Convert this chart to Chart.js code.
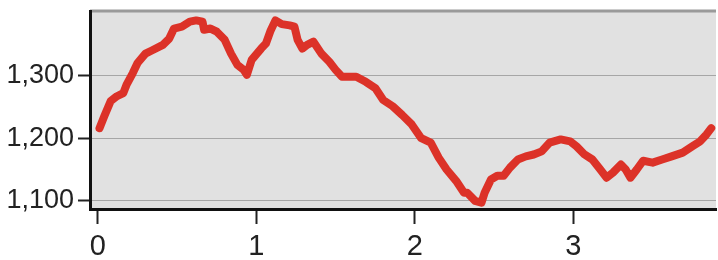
<!DOCTYPE html>
<html>
<head>
<meta charset="utf-8">
<script src="https://cdn.jsdelivr.net/npm/chart.js@4/dist/chart.umd.min.js"></script>
<style>
  html, body { margin: 0; padding: 0; background: #fff; }
  #wrap { width: 718px; height: 260px; }
</style>
</head>
<body>
<div id="wrap"><canvas id="lineChart"></canvas></div>
<script>
// values
const xValues = [0.01, 0.04, 0.08, 0.12, 0.16, 0.18, 0.22, 0.25, 0.30, 0.34, 0.41, 0.45, 0.48, 0.53, 0.58, 0.62,
  0.66, 0.67, 0.71, 0.75, 0.80, 0.84, 0.88, 0.92, 0.94, 0.97, 1.03, 1.06, 1.09, 1.12, 1.16, 1.21, 1.24, 1.26,
  1.29, 1.32, 1.36, 1.41, 1.46, 1.50, 1.54, 1.63, 1.69, 1.75, 1.80, 1.86, 1.92, 1.98, 2.04, 2.10, 2.15, 2.20,
  2.26, 2.31, 2.33, 2.38, 2.42, 2.44, 2.48, 2.52, 2.56, 2.60, 2.65, 2.70, 2.75, 2.80, 2.85, 2.92, 2.98, 3.02,
  3.07, 3.12, 3.17, 3.21, 3.25, 3.30, 3.33, 3.36, 3.40, 3.44, 3.50, 3.56, 3.62, 3.69, 3.75, 3.80, 3.84, 3.87];
const yValues = [1216, 1235, 1259, 1267, 1272, 1285, 1304, 1320, 1335, 1340, 1349, 1359, 1375, 1378, 1386, 1388,
  1386, 1373, 1375, 1370, 1357, 1335, 1317, 1309, 1301, 1325, 1343, 1351, 1372, 1388, 1382, 1380, 1378, 1357,
  1343, 1349, 1354, 1335, 1322, 1309, 1298, 1298, 1290, 1280, 1261, 1251, 1237, 1222, 1200, 1193, 1169, 1150,
  1132, 1113, 1113, 1100, 1097, 1113, 1134, 1140, 1140, 1153, 1166, 1171, 1174, 1179, 1193, 1198, 1195, 1187,
  1174, 1166, 1150, 1137, 1145, 1158, 1150, 1137, 1150, 1164, 1161, 1166, 1171, 1177, 1187, 1195, 1206, 1216];
const xTicks = [0, 1, 2, 3];
const yTicks = [1100, 1200, 1300];

const points = xValues.map((x, i) => ({ x: x, y: yValues[i] }));

const plotBg = {
  id: 'plotBg',
  beforeDraw(chart) {
    const { ctx, chartArea: a } = chart;
    ctx.save();
    ctx.fillStyle = '#e1e1e1';
    ctx.fillRect(a.left, a.top, a.right - a.left, a.bottom - a.top);
    ctx.strokeStyle = '#9a9a9a';
    ctx.lineWidth = 3;
    ctx.beginPath();
    ctx.moveTo(a.left, a.top);
    ctx.lineTo(a.right, a.top);
    ctx.stroke();
    ctx.restore();
  }
};

new Chart(document.getElementById('lineChart'), {
  type: 'line',
  data: {
    datasets: [{
      data: points,
      borderColor: '#dc3228',
      borderWidth: 8,
      pointRadius: 0,
      tension: 0,
      borderCapStyle: 'round',
      borderJoinStyle: 'round'
    }]
  },
  options: {
    responsive: true,
    maintainAspectRatio: false,
    animation: false,
    layout: { padding: { top: 11, right: 2, left: 0, bottom: 0 } },
    plugins: { legend: { display: false }, tooltip: { enabled: false } },
    scales: {
      x: {
        type: 'linear',
        min: -0.05,
        max: 3.9,
        afterBuildTicks: s => { s.ticks = xTicks.map(v => ({ value: v })); },
        afterFit: s => { s.height = 51; },
        border: { color: '#111', width: 3 },
        grid: { drawOnChartArea: false, tickLength: 15, tickColor: '#222', tickWidth: 2 },
        ticks: { color: '#222', padding: 6, font: { family: 'Liberation Sans, Arial', size: 29 } }
      },
      y: {
        min: 1087,
        max: 1403,
        afterBuildTicks: s => { s.ticks = yTicks.map(v => ({ value: v })); },
        afterFit: s => { s.width = 90; s.paddingTop = 0; s.paddingBottom = 0; },
        border: { color: '#111', width: 3 },
        grid: {
          color: '#a6a6a6', lineWidth: 1, borderDash: [1, 2],
          tickLength: 12, tickColor: '#222', tickWidth: 2, tickBorderDash: []
        },
        ticks: {
          color: '#222', padding: 4, font: { family: 'Liberation Sans, Arial', size: 27 },
          callback: v => v.toLocaleString('en-US')
        }
      }
    }
  },
  plugins: [plotBg]
});
</script>
</body>
</html>
